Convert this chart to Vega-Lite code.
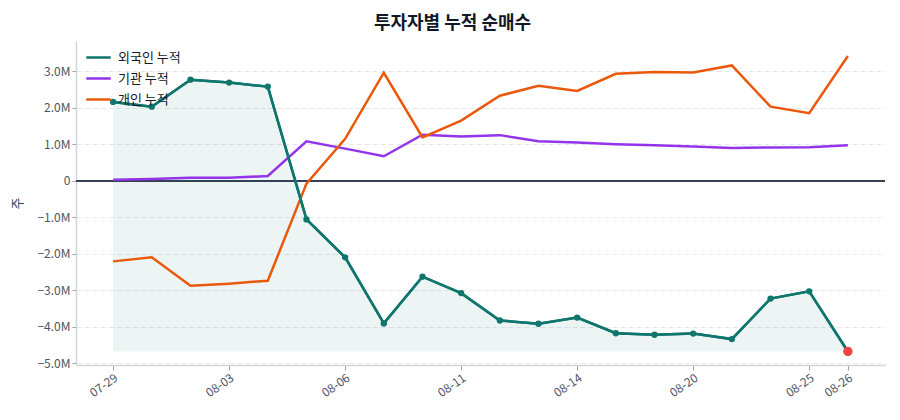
{
  "$schema": "https://vega.github.io/schema/vega-lite/v6.json",
  "autosize": "none",
  "width": 809,
  "height": 324,
  "padding": {"left": 76, "top": 41, "right": 15, "bottom": 55},
  "background": "white",
  "config": {
    "font": "Noto Sans CJK KR",
    "view": {"stroke": null},
    "axis": {
      "labelColor": "#4b5563",
      "labelFontSize": 12,
      "domainColor": "#d1d5db",
      "domainWidth": 1.5,
      "tickColor": "#9ca3af",
      "titleColor": "#374151"
    }
  },
  "title": {
    "text": "투자자별 누적 순매수",
    "fontSize": 18,
    "fontWeight": "bold",
    "color": "#111827",
    "offset": 8,
    "dx": -28
  },
  "data": {
    "values": [
      {"date": "07-29", "investor": "외국인 누적", "value": 2160000},
      {"date": "07-30", "investor": "외국인 누적", "value": 2030000},
      {"date": "07-31", "investor": "외국인 누적", "value": 2770000},
      {"date": "08-03", "investor": "외국인 누적", "value": 2690000},
      {"date": "08-04", "investor": "외국인 누적", "value": 2580000},
      {"date": "08-05", "investor": "외국인 누적", "value": -1060000},
      {"date": "08-06", "investor": "외국인 누적", "value": -2100000},
      {"date": "08-07", "investor": "외국인 누적", "value": -3910000},
      {"date": "08-10", "investor": "외국인 누적", "value": -2630000},
      {"date": "08-11", "investor": "외국인 누적", "value": -3080000},
      {"date": "08-12", "investor": "외국인 누적", "value": -3830000},
      {"date": "08-13", "investor": "외국인 누적", "value": -3920000},
      {"date": "08-14", "investor": "외국인 누적", "value": -3750000},
      {"date": "08-18", "investor": "외국인 누적", "value": -4180000},
      {"date": "08-19", "investor": "외국인 누적", "value": -4220000},
      {"date": "08-20", "investor": "외국인 누적", "value": -4190000},
      {"date": "08-21", "investor": "외국인 누적", "value": -4340000},
      {"date": "08-22", "investor": "외국인 누적", "value": -3230000},
      {"date": "08-25", "investor": "외국인 누적", "value": -3030000},
      {"date": "08-26", "investor": "외국인 누적", "value": -4680000},
      {"date": "07-29", "investor": "기관 누적", "value": 30000},
      {"date": "07-30", "investor": "기관 누적", "value": 50000},
      {"date": "07-31", "investor": "기관 누적", "value": 80000},
      {"date": "08-03", "investor": "기관 누적", "value": 80000},
      {"date": "08-04", "investor": "기관 누적", "value": 130000},
      {"date": "08-05", "investor": "기관 누적", "value": 1080000},
      {"date": "08-06", "investor": "기관 누적", "value": 880000},
      {"date": "08-07", "investor": "기관 누적", "value": 670000},
      {"date": "08-10", "investor": "기관 누적", "value": 1260000},
      {"date": "08-11", "investor": "기관 누적", "value": 1210000},
      {"date": "08-12", "investor": "기관 누적", "value": 1250000},
      {"date": "08-13", "investor": "기관 누적", "value": 1080000},
      {"date": "08-14", "investor": "기관 누적", "value": 1050000},
      {"date": "08-18", "investor": "기관 누적", "value": 1000000},
      {"date": "08-19", "investor": "기관 누적", "value": 970000},
      {"date": "08-20", "investor": "기관 누적", "value": 940000},
      {"date": "08-21", "investor": "기관 누적", "value": 900000},
      {"date": "08-22", "investor": "기관 누적", "value": 910000},
      {"date": "08-25", "investor": "기관 누적", "value": 920000},
      {"date": "08-26", "investor": "기관 누적", "value": 970000},
      {"date": "07-29", "investor": "개인 누적", "value": -2210000},
      {"date": "07-30", "investor": "개인 누적", "value": -2100000},
      {"date": "07-31", "investor": "개인 누적", "value": -2880000},
      {"date": "08-03", "investor": "개인 누적", "value": -2820000},
      {"date": "08-04", "investor": "개인 누적", "value": -2740000},
      {"date": "08-05", "investor": "개인 누적", "value": -80000},
      {"date": "08-06", "investor": "개인 누적", "value": 1150000},
      {"date": "08-07", "investor": "개인 누적", "value": 2960000},
      {"date": "08-10", "investor": "개인 누적", "value": 1190000},
      {"date": "08-11", "investor": "개인 누적", "value": 1650000},
      {"date": "08-12", "investor": "개인 누적", "value": 2330000},
      {"date": "08-13", "investor": "개인 누적", "value": 2600000},
      {"date": "08-14", "investor": "개인 누적", "value": 2460000},
      {"date": "08-18", "investor": "개인 누적", "value": 2930000},
      {"date": "08-19", "investor": "개인 누적", "value": 2980000},
      {"date": "08-20", "investor": "개인 누적", "value": 2970000},
      {"date": "08-21", "investor": "개인 누적", "value": 3160000},
      {"date": "08-22", "investor": "개인 누적", "value": 2030000},
      {"date": "08-25", "investor": "개인 누적", "value": 1850000},
      {"date": "08-26", "investor": "개인 누적", "value": 3420000}
    ]
  },
  "encoding": {
    "x": {
      "field": "date",
      "type": "ordinal",
      "sort": null,
      "scale": {"type": "point", "padding": 0.96},
      "axis": {
        "title": null,
        "values": ["07-29", "08-03", "08-06", "08-11", "08-14", "08-20", "08-25", "08-26"],
        "labelAngle": -35,
        "labelAlign": "right",
        "labelBaseline": "top",
        "grid": false,
        "tickSize": 5
      }
    },
    "y": {
      "field": "value",
      "type": "quantitative",
      "scale": {"domain": [-5050000, 3830000], "nice": false, "zero": false},
      "axis": {
        "title": "주",
        "titleFontSize": 13,
        "titleFontWeight": "normal",
        "titlePadding": 12,
        "values": [-5000000, -4000000, -3000000, -2000000, -1000000, 0, 1000000, 2000000, 3000000],
        "labelExpr": "datum.value == 0 ? '0' : format(datum.value / 1000000, '.1f') + 'M'",
        "grid": true,
        "gridColor": "#e5e7eb",
        "gridDash": [5, 3],
        "tickSize": 4
      }
    }
  },
  "layer": [
    {
      "transform": [
        {"filter": "datum.investor == '외국인 누적'"},
        {"joinaggregate": [{"op": "min", "field": "value", "as": "minValue"}]}
      ],
      "mark": {"type": "area", "color": "#0f766e", "opacity": 0.08},
      "encoding": {"y2": {"field": "minValue"}}
    },
    {
      "mark": {"type": "rule", "color": "#334155", "strokeWidth": 1.3},
      "encoding": {"x": null, "y": {"datum": 0}}
    },
    {
      "mark": {"type": "line", "strokeWidth": 2.5},
      "encoding": {
        "color": {
          "field": "investor",
          "type": "nominal",
          "scale": {
            "domain": ["외국인 누적", "기관 누적", "개인 누적"],
            "range": ["#0f766e", "#9333ea", "#ea580c"]
          },
          "legend": {
            "title": null,
            "orient": "none",
            "legendX": 9,
            "legendY": 3,
            "symbolType": "stroke",
            "symbolStrokeWidth": 2.5,
            "symbolSize": 600,
            "labelFontSize": 13,
            "labelOffset": 6,
            "labelColor": "#111827",
            "rowPadding": -5
          }
        },
        "order": {"field": "investor", "sort": "ascending"}
      }
    },
    {
      "transform": [{"filter": "datum.investor == '외국인 누적'"}],
      "mark": {"type": "line", "strokeWidth": 2.5, "color": "#0f766e"}
    },
    {
      "transform": [{"filter": "datum.investor == '외국인 누적'"}],
      "mark": {"type": "circle", "size": 40, "opacity": 1, "color": "#0f766e"}
    },
    {
      "transform": [{"filter": "datum.investor == '외국인 누적' && datum.date == '08-26'"}],
      "mark": {"type": "circle", "size": 90, "opacity": 1, "color": "#ef4444"}
    }
  ]
}
